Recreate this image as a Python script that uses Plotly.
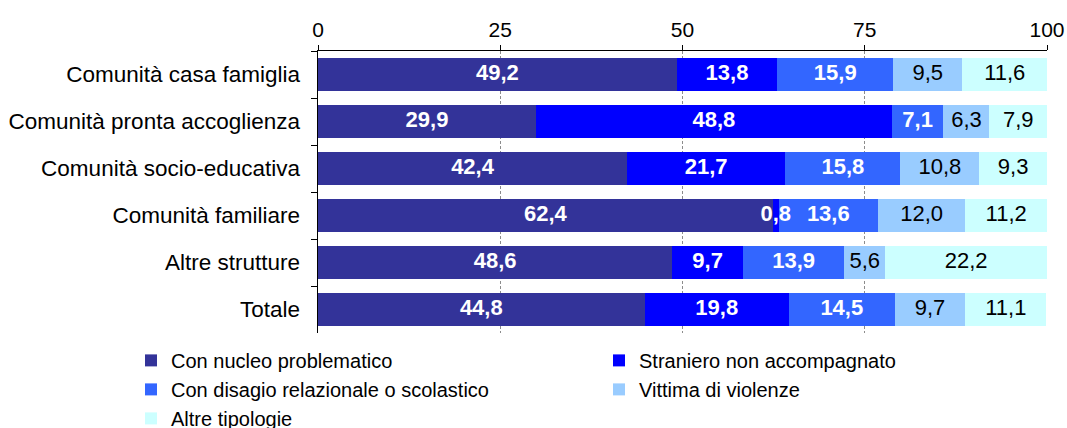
import plotly.graph_objects as go

categories = ["Comunità casa famiglia", "Comunità pronta accoglienza", "Comunità socio-educativa",
              "Comunità familiare", "Altre strutture", "Totale"]
nucleo = [49.2, 29.9, 42.4, 62.4, 48.6, 44.8]
straniero = [13.8, 48.8, 21.7, 0.8, 9.7, 19.8]
disagio = [15.9, 7.1, 15.8, 13.6, 13.9, 14.5]
vittima = [9.5, 6.3, 10.8, 12.0, 5.6, 9.7]
altre = [11.6, 7.9, 9.3, 11.2, 22.2, 11.1]

series_names = ["Con nucleo problematico", "Straniero non accompagnato",
                "Con disagio relazionale o scolastico", "Vittima di violenze", "Altre tipologie"]
series_values = [nucleo, straniero, disagio, vittima, altre]
colors = ["#333399", "#0000FF", "#3366FF", "#99CCFF", "#CCFFFF"]
text_colors = ["white", "white", "white", "black", "black"]
text_weights = ["bold", "bold", "bold", "normal", "normal"]

FONT = "Liberation Sans, Arial, sans-serif"

fig = go.Figure()
for name, vals, col in zip(series_names, series_values, colors):
    fig.add_trace(go.Bar(
        y=categories, x=vals, name=name, orientation="h",
        marker=dict(color=col, line=dict(width=0)),
        hoverinfo="skip",
    ))

# value labels on top of all bars (midpoints of stacked segments)
base = [0.0] * len(categories)
for vals, tc, tw in zip(series_values, text_colors, text_weights):
    mids = [b + v / 2 for b, v in zip(base, vals)]
    fig.add_trace(go.Scatter(
        x=mids, y=categories, mode="text",
        text=[f"{v:.1f}".replace(".", ",") for v in vals],
        textposition="middle center",
        textfont=dict(family=FONT, size=22, color=tc, weight=tw),
        showlegend=False, cliponaxis=False, hoverinfo="skip",
    ))
    base = [b + v for b, v in zip(base, vals)]

fig.update_layout(
    barmode="stack",
    bargap=0.28,
    separators=",.",
    width=1067, height=428,
    margin=dict(l=318, r=20, t=51, b=95, autoexpand=False),
    paper_bgcolor="white", plot_bgcolor="white",
    font=dict(family=FONT, size=20, color="black"),
    xaxis=dict(range=[0, 100], side="top", tickvals=[0, 25, 50, 75, 100],
               ticks="outside", ticklen=5, tickcolor="black",
               showline=True, linecolor="black", linewidth=1,
               showgrid=True, gridcolor="#8c8c8c", griddash="3px,2px", gridwidth=1,
               zeroline=False, tickfont=dict(size=21), automargin=False),
    yaxis=dict(autorange="reversed", ticks="outside", tickson="boundaries",
               ticklen=6, tickcolor="black", showline=True, linecolor="black",
               linewidth=1, showgrid=False, tickfont=dict(size=22.5), ticksuffix="  ",
               automargin=False),
    legend=dict(orientation="h", xref="paper", yref="paper",
                x=-0.2565, y=-0.028, xanchor="left", yanchor="top",
                entrywidth=423, entrywidthmode="pixels",
                font=dict(family=FONT, size=20),
                itemwidth=30, traceorder="normal"),
    showlegend=True,
)

fig.write_html("out.html", config={"displayModeBar": False},
               post_script="document.body.style.margin='0';")
